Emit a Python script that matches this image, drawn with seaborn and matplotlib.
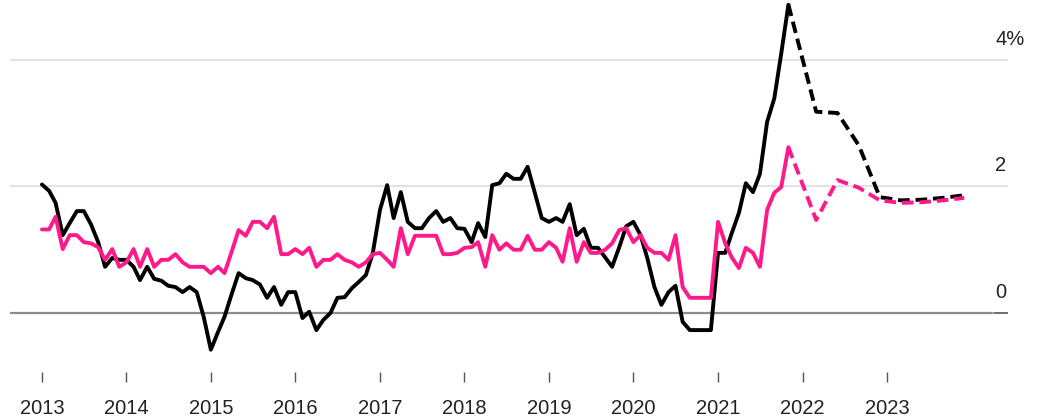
import pandas as pd
import seaborn as sns
import matplotlib.pyplot as plt

# monthly readings, Jan 2013 - Nov 2021
headline = [2.03, 1.93, 1.74, 1.23, 1.42, 1.61, 1.61, 1.40, 1.12, 0.73, 0.87, 0.84,
            0.84, 0.73, 0.52, 0.73, 0.54, 0.51, 0.43, 0.41, 0.33, 0.41, 0.33, -0.06,
            -0.58, -0.30, -0.06, 0.30, 0.63, 0.55, 0.52, 0.45, 0.24, 0.41, 0.13, 0.33,
            0.33, -0.08, 0.02, -0.27, -0.11, 0.00, 0.24, 0.25, 0.39, 0.49, 0.60, 0.95,
            1.63, 2.02, 1.50, 1.91, 1.44, 1.34, 1.34, 1.50, 1.61, 1.44, 1.50, 1.34,
            1.33, 1.12, 1.42, 1.20, 2.02, 2.05, 2.20, 2.12, 2.12, 2.31, 1.90, 1.50,
            1.44, 1.50, 1.44, 1.72, 1.23, 1.33, 1.03, 1.03, 0.88, 0.73, 1.04, 1.37,
            1.44, 1.23, 0.87, 0.41, 0.13, 0.33, 0.43, -0.14, -0.27, -0.27, -0.27, -0.27,
            0.95, 0.95, 1.26, 1.58, 2.05, 1.91, 2.20, 3.02, 3.39, 4.10, 4.87]
core = [1.32, 1.32, 1.52, 1.01, 1.23, 1.23, 1.12, 1.10, 1.04, 0.84, 1.01, 0.73,
        0.80, 1.01, 0.73, 1.01, 0.73, 0.84, 0.84, 0.93, 0.80, 0.73, 0.73, 0.73,
        0.63, 0.73, 0.63, 0.97, 1.31, 1.22, 1.44, 1.44, 1.34, 1.52, 0.93, 0.93,
        1.01, 0.93, 1.03, 0.73, 0.84, 0.84, 0.93, 0.84, 0.80, 0.73, 0.80, 0.93,
        0.95, 0.84, 0.73, 1.34, 0.93, 1.22, 1.22, 1.22, 1.22, 0.93, 0.93, 0.95,
        1.03, 1.04, 1.12, 0.73, 1.23, 1.00, 1.10, 1.00, 1.00, 1.22, 1.00, 1.00,
        1.12, 1.03, 0.81, 1.34, 0.81, 1.12, 0.95, 0.95, 1.00, 1.10, 1.31, 1.34,
        1.12, 1.23, 1.03, 0.95, 0.95, 0.84, 1.23, 0.41, 0.24, 0.24, 0.24, 0.24,
        1.44, 1.10, 0.88, 0.71, 1.03, 0.95, 0.73, 1.63, 1.90, 1.99, 2.62]

# forecast (dashed)
fc_dates = ['2021-11-01', '2022-03-01', '2022-06-01', '2022-09-01', '2022-12-01',
            '2023-03-01', '2023-06-01', '2023-09-01', '2023-12-01']
headline_fc = [4.87, 3.18, 3.16, 2.65, 1.83, 1.78, 1.79, 1.82, 1.86]
core_fc = [2.62, 1.47, 2.10, 1.98, 1.78, 1.74, 1.75, 1.78, 1.82]

years = list(range(2013, 2024))
ylevels = [0, 2, 4]
ylabels = ['0', '2', '4%']

dates = pd.date_range('2013-01-01', periods=len(headline), freq='MS')
fc_dates = pd.to_datetime(fc_dates)

black = '#000000'
pink = '#ff1a8c'

sns.set_style('white')
plt.rcParams['font.family'] = ['Liberation Sans', 'DejaVu Sans']

fig = plt.figure(figsize=(10.46, 4.19), dpi=100)
ax = fig.add_axes([10 / 1046, (419 - 372) / 419, 998 / 1046, 372 / 419])

# grid
for lv in ylevels[1:]:
    ax.axhline(lv, color='#e3e3e3', lw=1.5, zorder=0)
ax.axhline(0, xmin=0, xmax=0.984, color='#8c8c8c', lw=1.6, zorder=0)
ax.axhline(0, xmin=0.986, xmax=1.0, color='#555555', lw=1.2, zorder=0)

lw = 2.8
sns.lineplot(x=dates, y=headline, ax=ax, color=black, lw=lw, zorder=3)
sns.lineplot(x=dates, y=core, ax=ax, color=pink, lw=lw, zorder=4)
sns.lineplot(x=fc_dates, y=headline_fc, ax=ax, color=black, lw=lw,
             linestyle=(0, (3, 1.5)), zorder=3)
sns.lineplot(x=fc_dates, y=core_fc, ax=ax, color=pink, lw=lw,
             linestyle=(0, (3, 1.5)), zorder=4)

start = pd.Timestamp('2013-01-01')
ax.set_xlim(start - pd.Timedelta(days=138), start + pd.Timedelta(days=4175))
ax.set_ylim(-0.932, 4.945)

ax.set_xticks(pd.to_datetime([f'{y}-01-01' for y in years]))
ax.set_xticklabels([str(y) for y in years], fontsize=14.5, color='#222222')
ax.tick_params(axis='x', length=7.5, width=1, color='#555555', pad=12,
               direction='out', bottom=True)
ax.set_yticks([])
ax.set_xlabel('')
ax.set_ylabel('')
for s in ax.spines.values():
    s.set_visible(False)

for lv, lab in zip(ylevels, ylabels):
    ax.text(0.987, lv + 0.237, lab, transform=ax.get_yaxis_transform(),
            fontsize=14.5, color='#222222', ha='left', va='baseline')

fig.savefig('out.png', dpi=100)
